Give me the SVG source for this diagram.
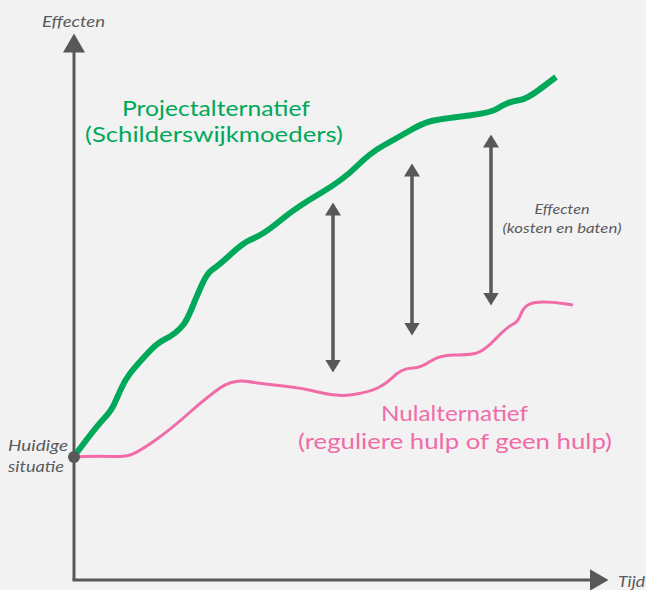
<svg xmlns="http://www.w3.org/2000/svg" width="646" height="590" viewBox="0 0 646 590">
<style>
.axis{stroke:#58585b;stroke-width:3;fill:none}
.dim{stroke:#58585b;stroke-width:3.5;fill:none}
.lbl{font-family:Lato,"Liberation Sans",sans-serif;font-style:italic;fill:#5a5a5e}
.big{font-family:Lato,"Liberation Sans",sans-serif}
.green{fill:#00a859}
.pink{fill:#f06ba8}
</style>
<defs>
<marker id="ah" markerUnits="userSpaceOnUse" markerWidth="13" markerHeight="16" viewBox="0 0 13 16" refX="0.5" refY="8" orient="auto-start-reverse">
<path d="M0,0 L13,8 L0,16 z" fill="#58585b"/>
</marker>
<marker id="axh" markerUnits="userSpaceOnUse" markerWidth="19" markerHeight="22" viewBox="0 0 19 22" refX="0.5" refY="11" orient="auto">
<path d="M0,0 L19,11 L0,22 z" fill="#58585b"/>
</marker>
</defs>
<rect x="0" y="0" width="646" height="590" fill="#f2f2f2"/>
<g id="axes">
<path class="axis" d="M74,580 L74,52" marker-end="url(#axh)"/>
<path class="axis" d="M72.5,580 L590,580" marker-end="url(#axh)"/>
<text class="lbl" x="42" y="27" font-size="14.5" textLength="63" lengthAdjust="spacingAndGlyphs">Effecten</text>
<text class="lbl" x="618" y="587" font-size="14.5" textLength="27" lengthAdjust="spacingAndGlyphs">Tijd</text>
</g>
<g id="projectalternatief">
<path d="M75,455 L86,440.5 Q97,426 104,418.5 Q111,411 114,404.5 Q117,398 121,389 Q125,380 130,373.5 Q135,367 146,355 Q157,343 163.5,340 Q170,337 175,333 Q180,329 183.5,324.5 Q187,320 191.5,309 Q196,298 201.5,285.5 Q207,273 212.5,269.5 Q218,266 230.5,254.5 Q243,243 250,240 Q257,237 263.5,233 Q270,229 283.5,218 Q297,207 320,193.5 Q343,180 356.5,166.5 Q370,153 383.5,145.5 Q397,138 410,130.5 Q423,123 431.5,121 Q440,119 465,116 Q490,113 496.5,109 Q503,105 508,103 Q513,101 520,100 Q527,99 541.5,88 L556,77" fill="none" stroke="#00a859" stroke-width="6" stroke-linecap="butt" stroke-linejoin="round"/>
<text class="big green" x="216" y="116" font-size="22" text-anchor="middle" textLength="188" lengthAdjust="spacingAndGlyphs">Projectalternatief</text>
<text class="big green" x="214" y="142" font-size="22" text-anchor="middle" textLength="258" lengthAdjust="spacingAndGlyphs">(Schilderswijkmoeders)</text>
</g>
<g id="nulalternatief">
<path d="M73,457 L85,456.5 Q97,456 110,456.5 Q123,457 130,455 Q137,453 153.5,441.5 Q170,430 188.5,413.5 Q207,397 220,388 Q233,379 248,381.5 Q263,384 283,386 Q303,388 320,392.5 Q337,397 353.5,394.5 Q370,392 378.5,387.5 Q387,383 392,378 Q397,373 402,370.5 Q407,368 413.5,368 Q420,368 430,361.5 Q440,355 453.5,355 Q467,355 475,353.5 Q483,352 495,339.5 Q507,327 512.5,324.5 Q518,322 520.5,315 Q523,308 528,305 Q533,302 543,302 Q553,302 563,303.5 L573,305" fill="none" stroke="#f06ba8" stroke-width="3" stroke-linejoin="round"/>
<text class="big pink" x="454.5" y="421" font-size="21" text-anchor="middle" textLength="147" lengthAdjust="spacingAndGlyphs">Nulalternatief</text>
<text class="big pink" x="455" y="449" font-size="21" text-anchor="middle" textLength="314" lengthAdjust="spacingAndGlyphs">(reguliere hulp of geen hulp)</text>
</g>
<g id="huidige-situatie">
<circle cx="74" cy="457" r="6" fill="#58585b"/>
<text class="lbl" x="8" y="451" font-size="14.5" textLength="60" lengthAdjust="spacingAndGlyphs">Huidige</text>
<text class="lbl" x="8" y="472" font-size="14.5" textLength="56" lengthAdjust="spacingAndGlyphs">situatie</text>
</g>
<g id="connectors">
<path class="dim" d="M333,215 L333,360" marker-start="url(#ah)" marker-end="url(#ah)"/>
<path class="dim" d="M412,176 L412,323" marker-start="url(#ah)" marker-end="url(#ah)"/>
<path class="dim" d="M491,147 L491,293" marker-start="url(#ah)" marker-end="url(#ah)"/>
</g>
<g id="effecten-label">
<text class="lbl" x="562" y="214" font-size="12.5" text-anchor="middle" textLength="55" lengthAdjust="spacingAndGlyphs">Effecten</text>
<text class="lbl" x="562" y="233" font-size="12.5" text-anchor="middle" textLength="119" lengthAdjust="spacingAndGlyphs">(kosten en baten)</text>
</g>
</svg>
